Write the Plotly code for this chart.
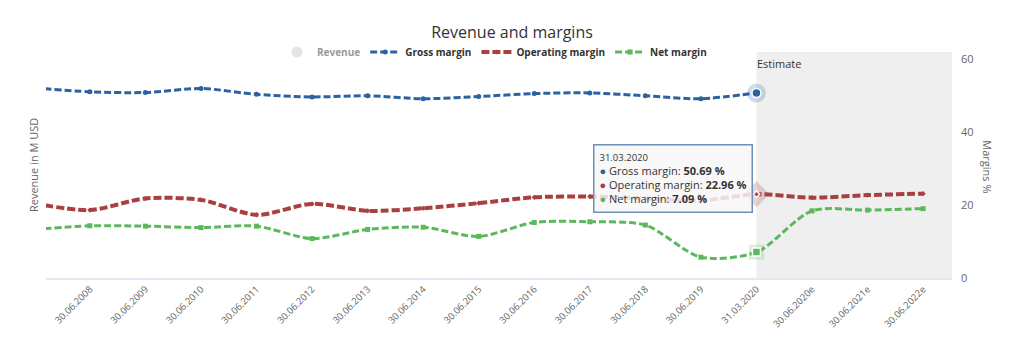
import plotly.graph_objects as go

# ---- data ----
categories = ["30.06.2007", "30.06.2008", "30.06.2009", "30.06.2010", "30.06.2011",
              "30.06.2012", "30.06.2013", "30.06.2014", "30.06.2015", "30.06.2016",
              "30.06.2017", "30.06.2018", "30.06.2019", "31.03.2020",
              "30.06.2020e", "30.06.2021e", "30.06.2022e"]
gross_margin = [52.1, 51.0, 50.8, 51.9, 50.3, 49.6, 49.9, 49.1, 49.7, 50.5,
                50.7, 49.9, 49.1, 50.69, None, None, None]
operating_margin = [20.4, 18.6, 21.8, 21.4, 17.3, 20.3, 18.4, 19.1, 20.5, 22.1,
                    22.3, 21.8, 21.2, 22.96, 22.0, 22.7, 23.1]
net_margin = [13.3, 14.3, 14.2, 13.8, 14.2, 10.8, 13.3, 13.9, 11.4, 15.2,
              15.4, 14.5, 5.7, 7.09, 18.4, 18.6, 19.0]
revenue = [None] * len(categories)   # series is hidden in the reference
first_estimate = "31.03.2020"
hover_cat = "31.03.2020"

BLUE = "#2c62a0"
RED = "#aa3f3f"
GREEN = "#5cb85c"
FONT = "Open Sans"

# positions: first category (2007) sits at -1 so 2008 is tick 0
xs = [i - 1 for i in range(len(categories))]
shown = [(x, c) for x, c in zip(xs, categories) if x >= 0]
hi = categories.index(hover_cat)
est = xs[categories.index(first_estimate)]

fig = go.Figure()

fig.add_trace(go.Scatter(x=xs, y=revenue, name="Revenue", mode="markers",
                         marker=dict(color="#cccccc", size=11, symbol="circle"),
                         visible="legendonly"))

fig.add_trace(go.Scatter(x=xs, y=gross_margin, name="Gross margin", mode="lines+markers",
                         line=dict(color=BLUE, width=3, dash="7px,3px", shape="spline", smoothing=0.8),
                         marker=dict(color=BLUE, size=5, symbol="circle"), connectgaps=False))
fig.add_trace(go.Scatter(x=xs, y=operating_margin, name="Operating margin", mode="lines+markers",
                         line=dict(color=RED, width=4, dash="8px,3px", shape="spline", smoothing=0.8),
                         marker=dict(color=RED, size=4, symbol="diamond")))
fig.add_trace(go.Scatter(x=xs, y=net_margin, name="Net margin", mode="lines+markers",
                         line=dict(color=GREEN, width=3, dash="7px,3px", shape="spline", smoothing=0.8),
                         marker=dict(color=GREEN, size=5, symbol="square")))

# hover halos on the highlighted category
for vals, col, sym, sz, hs in [(gross_margin, BLUE, "circle", 9, 19),
                               (operating_margin, RED, "diamond", 5, 20),
                               (net_margin, GREEN, "square", 8, 15)]:
    fig.add_trace(go.Scatter(x=[xs[hi]], y=[vals[hi]], mode="markers", showlegend=False,
                             hoverinfo="skip",
                             marker=dict(color=col, size=hs, symbol=sym, opacity=0.22,
                                         line=dict(width=0))))
    fig.add_trace(go.Scatter(x=[xs[hi]], y=[vals[hi]], mode="markers", showlegend=False,
                             hoverinfo="skip",
                             marker=dict(color=col, size=sz, symbol=sym,
                                         line=dict(color="white", width=1.5))))

# estimate band
fig.add_shape(type="rect", xref="x", yref="paper", x0=est, x1=15.52, y0=0, y1=1,
              fillcolor="#efefef", line=dict(width=0), layer="below")
fig.add_annotation(xref="x", yref="paper", x=est, y=1, xanchor="left", yanchor="top",
                   text="Estimate", showarrow=False, xshift=-1, yshift=-2,
                   font=dict(family=FONT, size=11, color="#333333"))

# axis titles
fig.add_annotation(xref="paper", yref="paper", x=-0.0143, y=0.5, text="Revenue in M USD",
                   textangle=-90, showarrow=False, xanchor="center", yanchor="middle",
                   font=dict(family=FONT, size=11, color="#666666"))
fig.add_annotation(xref="paper", yref="paper", x=1.0397, y=0.49, text="Margins %",
                   textangle=90, showarrow=False, xanchor="center", yanchor="middle",
                   font=dict(family=FONT, size=11, color="#666666"))

# tooltip
dot = "<span style='color:{}'>●</span>"
tip = (f"<span style='font-size:9.5px'>{hover_cat}</span><br>"
       f"{dot.format(BLUE)} Gross margin: <b>{gross_margin[hi]:.2f} %</b><br>"
       f"{dot.format(RED)} Operating margin: <b>{operating_margin[hi]:.2f} %</b><br>"
       f"{dot.format(GREEN)} Net margin: <b>{net_margin[hi]:.2f} %</b>")
fig.add_annotation(xref="paper", yref="paper", x=0.6038, y=0.593, xanchor="left", yanchor="top",
                   text=tip, showarrow=False, align="left",
                   bgcolor="rgba(247,247,247,0.85)", bordercolor="#6d8fb8", borderwidth=1.5,
                   borderpad=5,
                   font=dict(family=FONT, size=11, color="#333333"))

fig.update_layout(
    width=1024, height=346,
    margin=dict(l=46, r=72, t=52, b=68),
    paper_bgcolor="white", plot_bgcolor="white",
    font=dict(family=FONT, color="#333333"),
    title=dict(text="Revenue and margins", x=0.5, xanchor="center", y=0.905, yanchor="middle",
               font=dict(family=FONT, size=16, color="#333333")),
    legend=dict(orientation="h", x=0.495, xanchor="center", y=1.0, yanchor="middle",
                font=dict(family=FONT, size=10, color="#333333", weight="bold"),
                itemwidth=30, bgcolor="rgba(0,0,0,0)", tracegroupgap=0),
    showlegend=True,
    hovermode=False,
    xaxis=dict(range=[-0.79, 15.52], tickmode="array",
               tickvals=[s[0] for s in shown], ticktext=[s[1] for s in shown],
               tickangle=-45, showgrid=False, zeroline=False,
               showline=True, linecolor="#e3e7f3", linewidth=2,
               ticks="", tickfont=dict(family=FONT, size=9.5, color="#666666")),
    yaxis=dict(range=[0, 61.9], side="right", tickvals=[0, 20, 40, 60],
               showgrid=False, zeroline=False, showline=False, ticks="",
               ticklabelstandoff=8,
               tickfont=dict(family=FONT, size=11, color="#666666")),
)

fig.write_html("out.html")
